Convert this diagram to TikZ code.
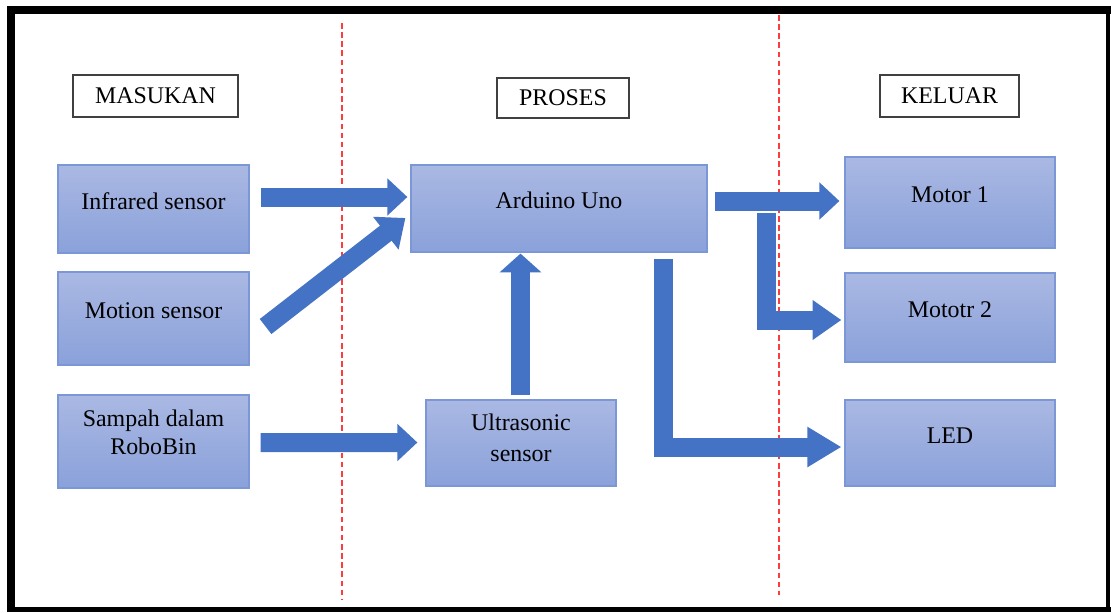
\documentclass[tikz,border=0pt]{standalone}
\usepackage{fontspec}
\setmainfont{Liberation Serif}
\usepackage{tikz}
\usetikzlibrary{calc,arrows.meta}
\usepackage{xcolor}
\definecolor{boxtop}{RGB}{170,184,227}
\definecolor{boxbot}{RGB}{138,161,218}
\definecolor{boxedge}{RGB}{124,151,214}
\definecolor{arrowblue}{RGB}{68,114,196}
\definecolor{dashred}{RGB}{255,60,60}

\begin{document}
\begin{tikzpicture}[x=0.025cm,y=-0.025cm,font=\fontsize{17}{19.5}\selectfont]
      \tikzstyle{head node}=[draw=black!75,line width=1pt,fill=white,inner sep=0]
      \tikzstyle{blue node}=[draw=boxedge,line width=0.8pt,top color=boxtop,bottom color=boxbot,inner sep=0,align=center,text height=12pt,text depth=12pt]
      \tikzstyle{block arrow}=[draw=arrowblue,line width=0.475cm,line join=miter,-{Triangle[length=0.5cm,width=0.9cm]}]
      \useasboundingbox (0,0) rectangle (1111,612);
      \draw[line width=0.2cm] (11,612) -- (11,9.5) -- (1111,9.5);
      \draw[line width=0.08cm] (1108,9.5) -- (1108,612);
      \draw[line width=0.13cm] (7,609.5) -- (1111,609.5);
      \draw[dashred,line width=1.5pt,dash pattern=on 4pt off 2.5pt] (342,23) -- (342,600);
      \draw[dashred,line width=1.5pt,dash pattern=on 4pt off 2.5pt] (779,15) -- (779,595);
      \node(masukan)[head node,minimum width=4.125cm,minimum height=1.05cm] at (155.5,96) {MASUKAN};
      \node(proses)[head node,minimum width=3.3cm,minimum height=1cm] at (563,98) {PROSES};
      \node(keluar)[head node,minimum width=3.475cm,minimum height=1.05cm] at (949.5,96) {KELUAR};
      \node(ir)[blue node,minimum width=4.775cm,minimum height=2.2cm] at (153.5,209) {Infrared sensor};
      \node(pir)[blue node,minimum width=4.775cm,minimum height=2.325cm] at (153.5,318.5) {Motion sensor};
      \node(bin)[blue node,minimum width=4.775cm,minimum height=2.325cm,text height=32pt,text depth=14pt] at (153.5,441.5) {Sampah dalam\\RoboBin};
      \node(uno)[blue node,minimum width=7.4cm,minimum height=2.175cm] at (559,208.5) {Arduino Uno};
      \node(us)[blue node,minimum width=4.75cm,minimum height=2.15cm,text height=37pt,text depth=10pt] at (521,443) {Ultrasonic\\[3pt]sensor};
      \node(m1)[blue node,minimum width=5.25cm,minimum height=2.275cm] at (950,202.5) {Motor 1};
      \node(m2)[blue node,minimum width=5.25cm,minimum height=2.225cm] at (950,317.5) {Mototr 2};
      \node(led)[blue node,minimum width=5.25cm,minimum height=2.15cm] at (950,443) {LED};
      \draw[block arrow] ($(ir.east)+(11,-12)$) -- ($(uno.west)+(-3,-11.5)$);
      \draw[block arrow,-{Triangle[length=0.62cm,width=1cm]}] ($(pir.east)+(16,8)$) -- ($(uno.west)+(-5,9.5)$);
      \draw[block arrow] ($(bin.east)+(11,1)$) -- ($(us.west)+(-8,-0.5)$);
      \draw[block arrow,-{Triangle[length=0.47cm,width=1.02cm]}] ($(us.north)+(-0.5,-4)$) -- ($(uno.south)+(-38.5,1)$);
      \draw[block arrow] ($(uno.east)+(7,-7.5)$) -- ($(m1.west)+(-5,-1.5)$);
      \draw[block arrow,-{Triangle[length=0.72cm,width=0.95cm]}] ($(uno.east)+(58.5,4.5)$) |- ($(m2.west)+(-3,2.5)$);
      \draw[block arrow,-{Triangle[length=0.85cm,width=0.95cm]}] ($(uno.south east)+(-44,6)$) |- ($(led.west)+(-3,4)$);
  \end{tikzpicture}
\end{document}
